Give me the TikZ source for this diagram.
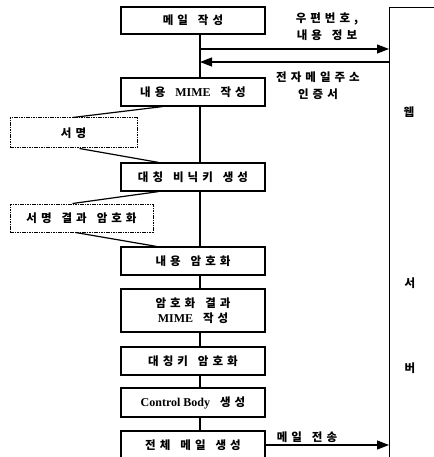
\documentclass[tikz,border=0pt]{standalone}
\usepackage{fontspec}
\setmainfont{Liberation Serif}
\newfontfamily\kr{Noto Sans CJK KR}[LetterSpace=35, WordSpace=1.5]
\usetikzlibrary{arrows.meta}

\tikzset{
    stepbox/.style  = {draw, line width = 1.2pt, minimum width = 144pt, inner sep = 0pt, font = \kr\bfseries\fontsize{11.5}{15}\selectfont},
    signbox/.style  = {stepbox, dash pattern = on 1.6pt off 0.8pt, line width = 1pt},
    msg/.style      = {align = center, inner sep = 0pt, font = \kr\bfseries\fontsize{11.5}{17}\selectfont},
    arr/.style      = {line width = 1.2pt, -{Triangle[length = 12pt, width = 9pt]}},
    link/.style     = {line width = 1.2pt}
}
\newcommand{\lat}[1]{{\rmfamily\bfseries\fontsize{12}{15}\selectfont #1}}

\begin{document}
\begin{tikzpicture}[x = 1pt, y = -1pt]
        \useasboundingbox (0,0) rectangle (433,457);

        % main flow (left column)
        \node[stepbox, minimum height = 27pt] (mail)    at (193, 20.5) {메일 작성};
        \node[stepbox, minimum height = 28pt] (mime)    at (193, 92.0) {내용 \lat{MIME} 작성};
        \node[stepbox, minimum height = 28pt] (symkey)  at (193,177.0) {대칭 비닉키 생성};
        \node[stepbox, minimum height = 28pt] (cenc)    at (193,261.0) {내용 암호화};
        \node[stepbox, minimum height = 43pt, align = center] (encmime) at (193,310.5) {암호화 결과\\\lat{MIME} 작성};
        \node[stepbox, minimum height = 28pt] (keyenc)  at (193,361.0) {대칭키 암호화};
        \node[stepbox, minimum height = 29pt] (ctrl)    at (193,402.5) {\lat{Control Body} 생성};
        \node[stepbox, minimum height = 28pt] (whole)   at (193,445.0) {전체 메일 생성};

        % side steps (dashed)
        \node[signbox, minimum width = 127pt, minimum height = 30pt] (sign)    at (73.5,133) {서명};
        \node[signbox, minimum width = 143pt, minimum height = 28pt] (signenc) at (81.5,218) {서명 결과 암호화};

        % web server
        \node[draw, line width = 1.4pt, anchor = north west, minimum width = 70pt, minimum height = 470pt] (web) at (389,7) {};
        \node[msg] (w1) at (409,112) {웹};
        \node[msg] (w2) at (410,283) {서};
        \node[msg] (w3) at (410,368) {버};

        % spine
        \coordinate (spine) at (200,0);
        \foreach \a/\b in {mail/mime, mime/symkey, symkey/cenc, cenc/encmime, encmime/keyenc, keyenc/ctrl, ctrl/whole}
            \draw[link] (\a.south -| spine) -- (\b.north -| spine);

        % side branches
        \draw[link] ([xshift = 42pt]mime.south west)    -- ([xshift = 63pt]sign.north west);
        \draw[link] ([xshift = 70pt]sign.south west)    -- ([xshift = 38pt]symkey.north west);
        \draw[link] ([xshift = 38pt]symkey.south west)  -- ([xshift = 63pt]signenc.north west);
        \draw[link] ([xshift = 66pt]signenc.south west) -- ([xshift = 36pt]cenc.north west);

        % messages to / from the server
        \coordinate (out1) at (200,49);
        \coordinate (in1)  at (200,62);
        \draw[arr] (out1) -- (out1 -| web.west);
        \draw[arr] (in1 -| web.west) -- (in1);
        \draw[arr] (whole.east) -- (whole.east -| web.west);

        \node[msg] (zip)  at (327,27) {우편번호,\\내용 정보};
        \node[msg] (cert) at (318,86) {전자메일주소\\인증서};
        \node[msg] (send) at (307,437) {메일 전송};
\end{tikzpicture}
\end{document}
